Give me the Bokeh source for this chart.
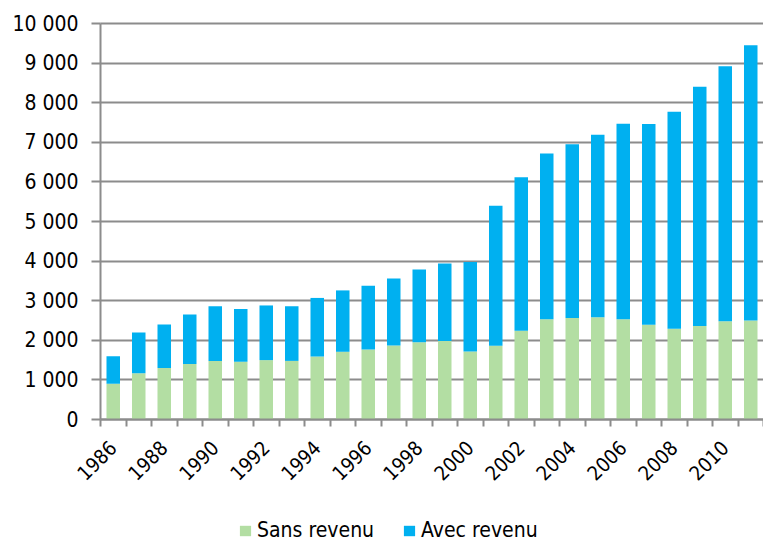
import math
from bokeh.plotting import figure
from bokeh.models import ColumnDataSource, FixedTicker, Range1d, Legend, LegendItem, BoxAnnotation
from bokeh.embed import file_html
from bokeh.resources import INLINE

years = list(range(1986, 2012))
sans_revenu = [900, 1170, 1300, 1400, 1480, 1460, 1500, 1480, 1590, 1710, 1770, 1870,
               1950, 1980, 1720, 1860, 2240, 2530, 2560, 2580, 2530, 2390, 2290, 2360, 2480, 2500]
totals = [1600, 2200, 2400, 2650, 2860, 2790, 2880, 2860, 3070, 3260, 3380, 3560,
          3790, 3940, 3980, 5400, 6120, 6720, 6950, 7190, 7470, 7460, 7770, 8400, 8920, 9450]
avec_revenu = [t - s for t, s in zip(totals, sans_revenu)]
label_years = list(range(1986, 2011, 2))
y_ticks = list(range(0, 10001, 1000))

GREEN = "#B3DEA3"
BLUE = "#00B0F0"
GRID = "#8C8C8C"
FONT = "DejaVu Sans Condensed"

# layout: the frame covers the whole page; axes are pinned at x=1985.5 and y=0
W, H = 763, 542
PLOT_L, PLOT_T, PLOT_B = 100, 23, 419
X0, X1 = years[0] - 0.5, years[-1] + 0.5
px_per_x = (W - PLOT_L) / (X1 - X0)
Y_MAX = 10000
px_per_y = (PLOT_B - PLOT_T) / Y_MAX
x_start = X0 - PLOT_L / px_per_x
y_start = -(H - PLOT_B) / px_per_y
y_end = Y_MAX + PLOT_T / px_per_y

src = ColumnDataSource(dict(year=years, sans=sans_revenu, avec=avec_revenu))

p = figure(frame_width=W, frame_height=H, output_backend="svg", toolbar_location=None,
           x_range=Range1d(x_start, X1), y_range=Range1d(y_start, y_end),
           min_border_left=0, min_border_right=0, min_border_top=0, min_border_bottom=0)
p.outline_line_color = None
p.background_fill_color = "white"

p.xgrid.grid_line_color = None
grid = p.ygrid[0]
grid.grid_line_color = GRID
grid.grid_line_width = 2
grid.ticker = FixedTicker(ticks=y_ticks)
if "cross_bounds" in grid.properties():
    grid.cross_bounds = (X0, X1)
else:
    p.add_layout(BoxAnnotation(right=X0, fill_color="white", fill_alpha=1.0,
                               line_color=None, level="underlay"))

r = p.vbar_stack(["sans", "avec"], x="year", width=0.53, source=src,
                 color=[GREEN, BLUE], line_color=None)

p.yaxis.fixed_location = X0
p.yaxis.bounds = (0, Y_MAX)
p.yaxis.ticker = FixedTicker(ticks=y_ticks)
p.yaxis.major_label_overrides = {v: (f"{v:,}".replace(",", " ")) for v in y_ticks}
p.yaxis.major_label_text_font = FONT
p.yaxis.major_label_text_font_size = "21px"
p.yaxis.major_label_text_color = "#000000"
p.yaxis.major_label_standoff = 13
p.yaxis.axis_line_color = GRID
p.yaxis.axis_line_width = 2
p.yaxis.major_tick_line_color = GRID
p.yaxis.major_tick_line_width = 2
p.yaxis.major_tick_out = 9
p.yaxis.major_tick_in = 0
p.yaxis.minor_tick_line_color = None

bounds = [y - 0.5 for y in years] + [years[-1] + 0.5]
p.xaxis.fixed_location = 0
p.xaxis.bounds = (X0, X1)
p.xaxis.ticker = FixedTicker(ticks=label_years, minor_ticks=bounds)
p.xaxis.major_label_orientation = math.pi / 4
p.xaxis.major_label_text_font = FONT
p.xaxis.major_label_text_font_size = "20px"
p.xaxis.major_label_text_color = "#000000"
p.xaxis.major_label_standoff = 18
p.xaxis.axis_line_color = GRID
p.xaxis.axis_line_width = 2
p.xaxis.major_tick_line_color = None
p.xaxis.minor_tick_line_color = GRID
p.xaxis.minor_tick_line_width = 2
p.xaxis.minor_tick_out = 7
p.xaxis.minor_tick_in = 0

legend = Legend(items=[LegendItem(label="Sans revenu", renderers=[r[0]]),
                       LegendItem(label="Avec revenu", renderers=[r[1]])],
                orientation="horizontal", location=(238, 0),
                padding=0, margin=0, spacing=28, glyph_width=14, glyph_height=13,
                label_standoff=5, label_text_font=FONT,
                label_text_font_size="21px", label_text_color="#000000",
                border_line_color=None, background_fill_alpha=0)
p.add_layout(legend, "center")

open("out.html", "w").write(file_html(p, INLINE))
